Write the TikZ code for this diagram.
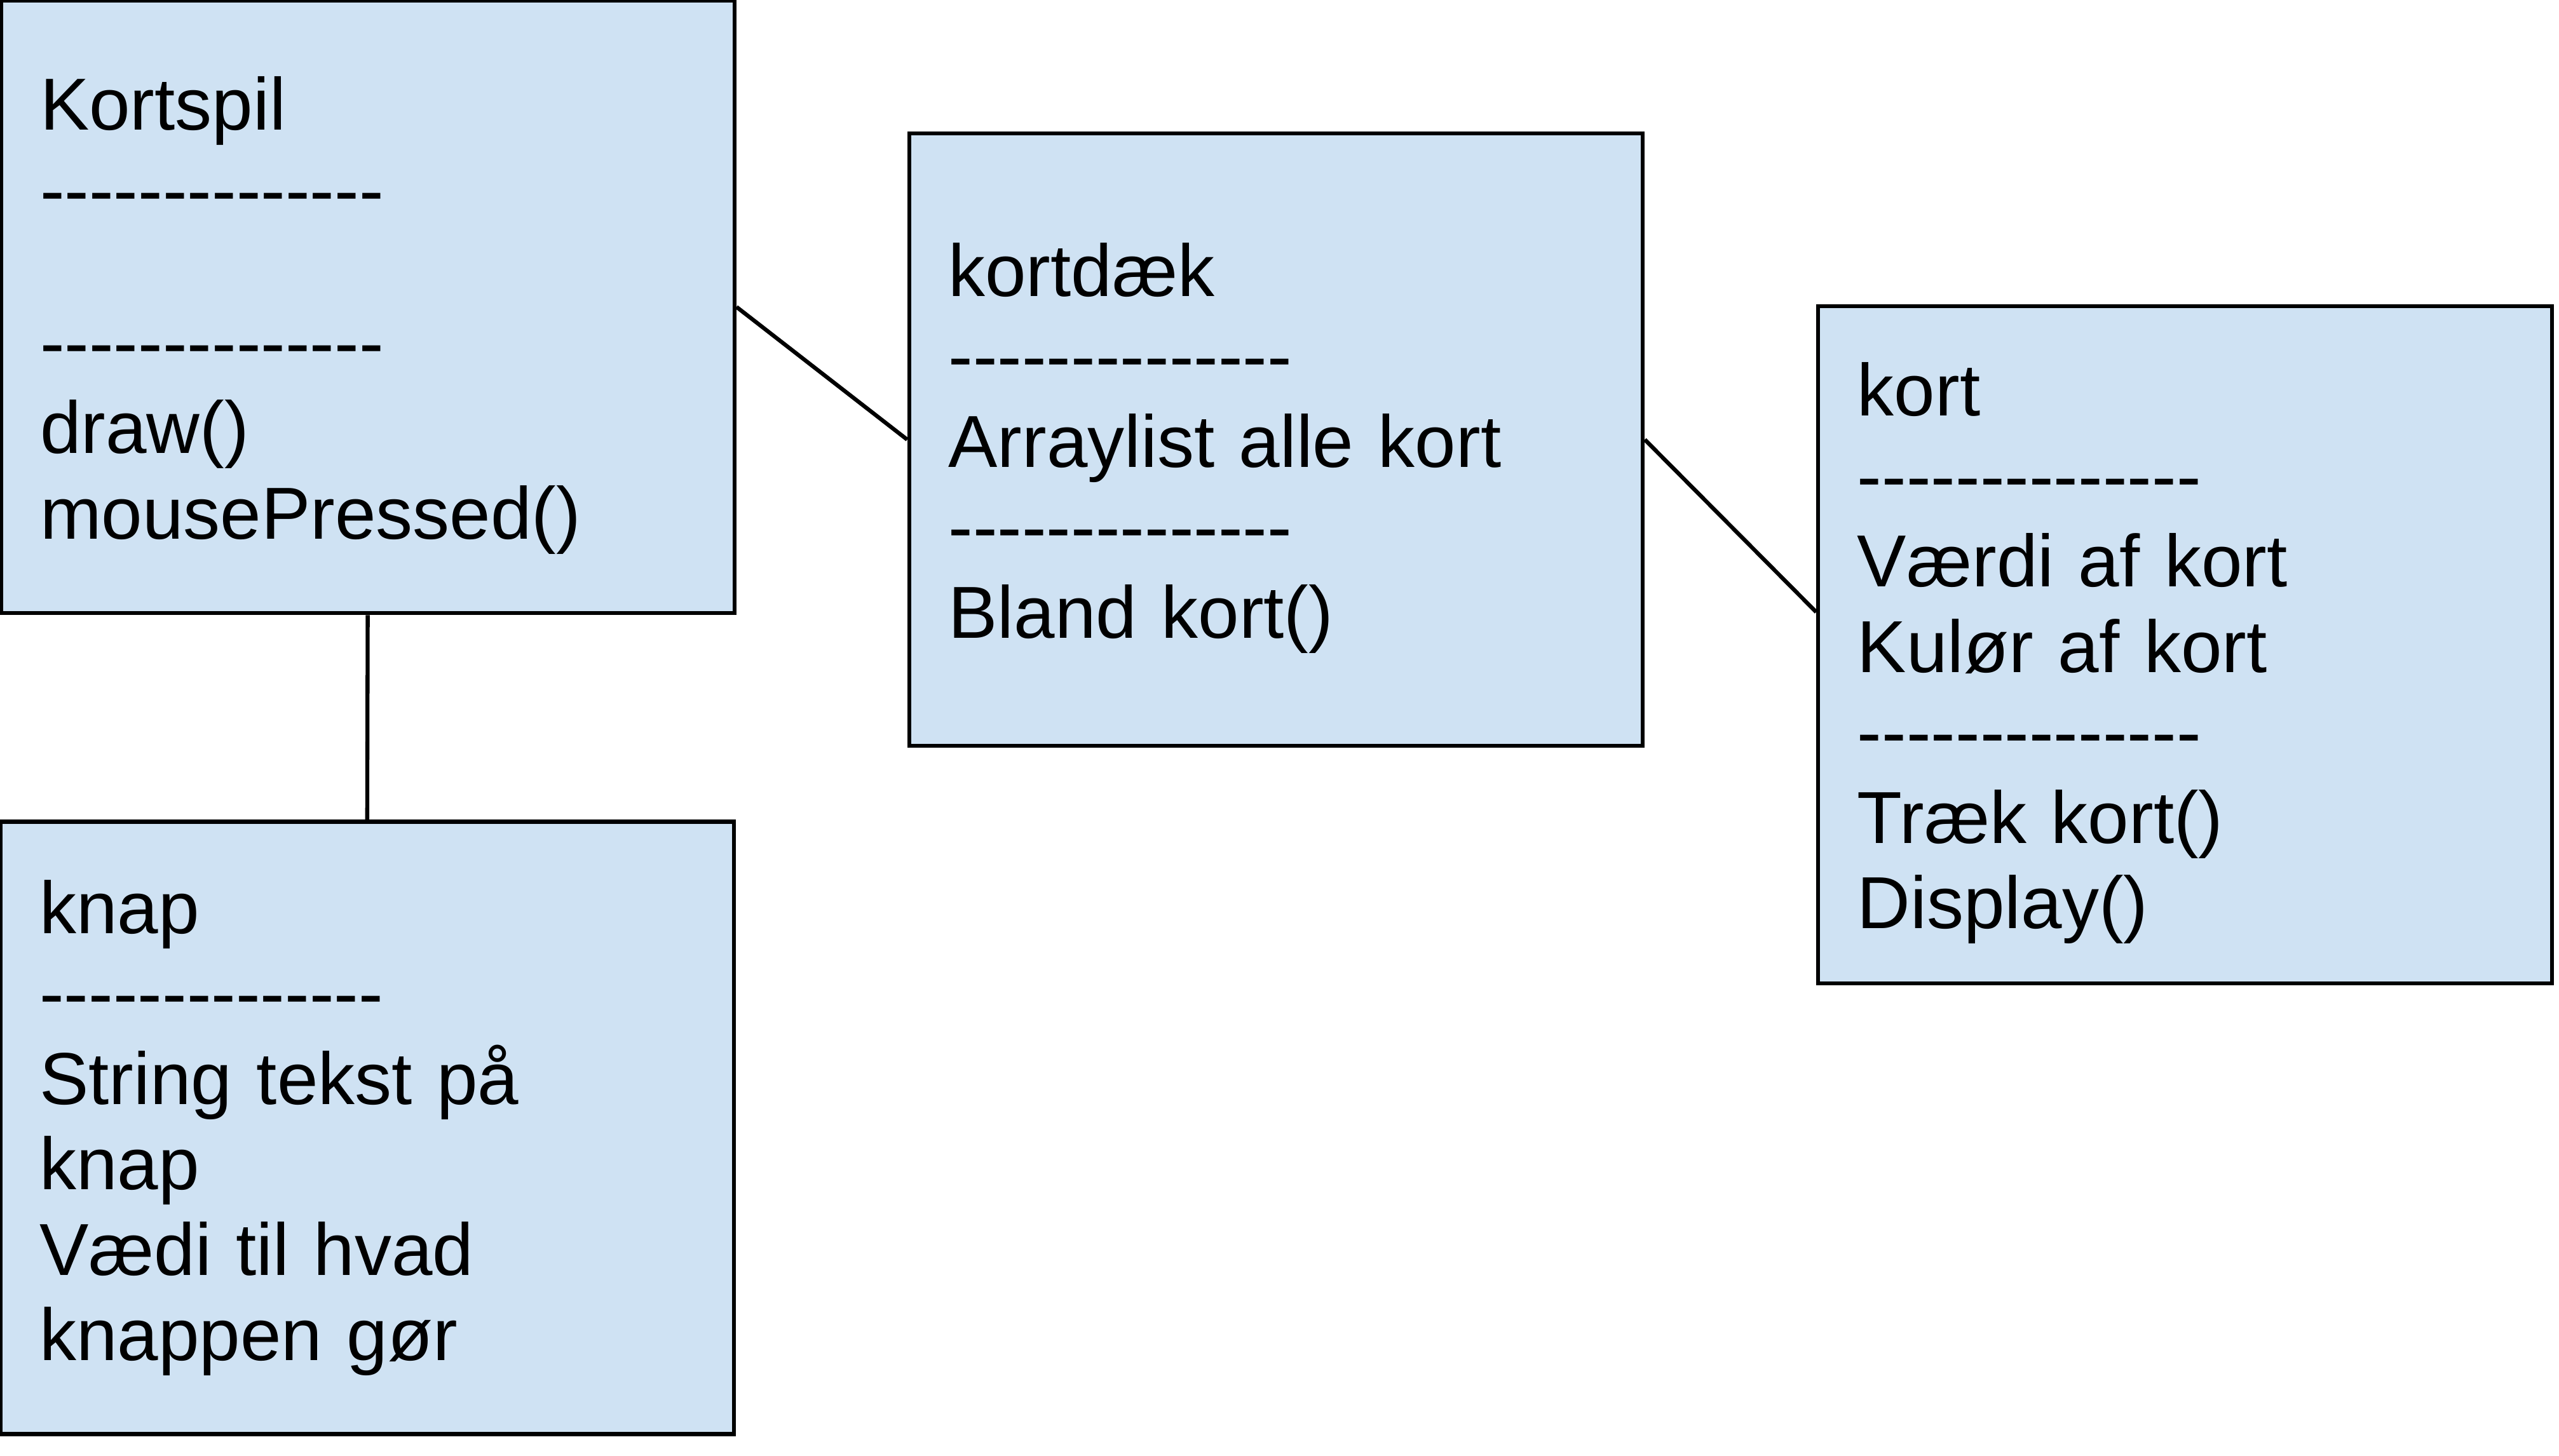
\documentclass[tikz,border=0pt]{standalone}
\usepackage{fontspec}
\setmainfont{Liberation Sans}[Ligatures=TeXOff]
\usetikzlibrary{positioning}
\definecolor{classblue}{HTML}{CFE2F3}
\newcommand{\highstrut}{\rule{0pt}{0.43cm}}

\begin{document}
\begin{tikzpicture}[-,line width=0.7pt]

  \tikzstyle{class}=[rectangle,draw,fill=classblue,align=left,
                     minimum width=4.495cm,minimum height=3.753cm,
                     text width=4.015cm,inner xsep=0.24cm,inner ysep=0pt,
                     font=\fontsize{12.85pt}{14.9pt}\selectfont]

  \useasboundingbox (0,0) rectangle (15.68,-8.924);

  \node[class] (KS) at (2.253,-1.8815)
    {\highstrut Kortspil\\--------------\\[0.41cm]--------------\\draw()\\mousePressed()};
  \node[class] (KD) at (7.8185,-2.6945)
    {\highstrut kortdæk\\--------------\\Arraylist alle kort\\--------------\\Bland kort()};
  \node[class,minimum height=4.15cm] (K) at (13.3885,-3.952)
    {\highstrut kort\\--------------\\Værdi af kort\\Kulør af kort\\--------------\\Træk kort()\\Display()};
  \node[class] (KN) at (2.25,-6.9135)
    {knap\\--------------\\String tekst på\\knap\\Vædi til hvad\\knappen gør};

  \draw (KS.east) -- (KD.west);
  \draw (KD.east) -- ([yshift=0.2cm]K.west);
  \draw (KS.south) -- (KN.north);

\end{tikzpicture}
\end{document}
